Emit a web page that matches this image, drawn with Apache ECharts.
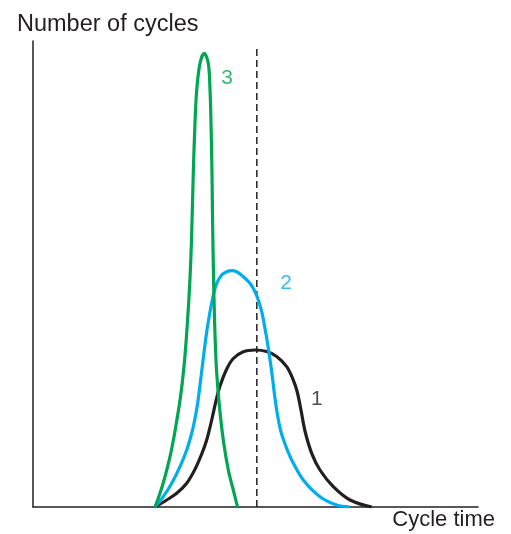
<!DOCTYPE html>
<html>
<head>
<meta charset="utf-8">
<script src="https://cdn.jsdelivr.net/npm/echarts@6/dist/echarts.min.js"></script>
<style>html,body{margin:0;padding:0;background:#fff}#c{width:511px;height:534px}</style>
</head>
<body>
<div id="c"></div>
<script>
// Curve 1 (black)
const curve1X = [27.42,30.04,32.29,34.54,36.40,37.91,39.03,40.16,41.12,42.02,43.53,45.01,47.26,49.89,52.52,54.76,57.01,58.49,59.33,60.22,61.12,62.63,64.49,67.48,71.24,76.11];
const curve1Y = [0,1.50,2.94,5.09,8.10,11.37,14.38,18.67,22.75,25.97,29.61,31.87,33.33,33.69,33.37,32.30,30.11,27.25,24.89,20.82,16.31,11.52,7.94,4.36,1.50,0];
// Curve 2 (blue)
const curve2X = [27.42,29.28,31.17,33.03,34.54,35.66,36.29,36.97,37.53,38.27,39.03,39.78,40.52,41.28,42.40,43.53,44.65,45.78,47.26,48.76,49.89,50.63,51.39,52.13,52.88,53.64,54.38,54.94,55.62,56.63,58.13,60.74,64.49,68.25,71.24];
const curve2Y = [0,2.21,5.09,8.65,12.23,15.82,18.45,22.10,26.18,31.91,37.55,41.91,45.49,48.00,49.79,50.49,50.71,50.49,49.42,48.00,46.20,44.42,41.91,38.35,34.06,29.03,23.33,19.74,16.52,13.52,10.09,5.79,2.21,0.43,0];
// Curve 3 (green)
const curve3X = [27.42,28.54,29.66,30.79,31.69,32.29,32.88,33.37,33.80,34.13,34.74,35.26,35.62,36.02,36.40,36.79,37.53,38.49,39.39,39.78,40.0,40.22,40.36,40.58,40.74,40.94,41.28,41.91,42.76,43.89,45.01,45.96];
const curve3Y = [0,2.94,6.50,10.79,15.09,18.45,21.89,25.32,28.97,32.19,40.13,48.71,57.30,71.67,82.40,89.48,95.21,97.36,95.21,89.48,82.40,71.67,60.94,48.71,42.27,35.84,28.76,21.46,14.38,7.94,3.65,0];
// Dashed reference line
const dashX = 50.3;
const dashY = [0, 98.3];
// Curve labels
const labelText = ['1','2','3'];
const labelX = [63.8, 56.9, 43.6];
const labelY = [23.2, 48.1, 92.1];
const xTitle = 'Cycle time';
const yTitle = 'Number of cycles';

const ink = '#231f20';
const colors = ['#231f20', '#00aeef', '#00a651'];
const zip = (xs, ys) => xs.map((x, i) => [x, ys[i]]);

const chart = echarts.init(document.getElementById('c'), null, {renderer: 'canvas'});
const font = 'Liberation Sans, Arial, Helvetica, sans-serif';
chart.setOption({
  animation: false,
  backgroundColor: '#fff',
  grid: {left: 33, right: 33, top: 41, bottom: 27},
  xAxis: {
    type: 'value', min: 0, max: 100,
    axisLine: {show: true, onZero: false, lineStyle: {color: ink, width: 1.5}},
    axisTick: {show: false}, axisLabel: {show: false}, splitLine: {show: false},
    name: xTitle, nameLocation: 'end', nameGap: 17,
    nameTextStyle: {color: ink, fontSize: 22, fontFamily: font, align: 'right', verticalAlign: 'top', padding: [2, 0, 0, 0]}
  },
  yAxis: {
    type: 'value', min: 0, max: 100,
    axisLine: {show: true, onZero: false, lineStyle: {color: ink, width: 1.5}},
    axisTick: {show: false}, axisLabel: {show: false}, splitLine: {show: false},
    name: yTitle, nameLocation: 'end', nameGap: 4,
    nameTextStyle: {color: ink, fontSize: 23.5, fontFamily: font, align: 'left', padding: [0, 0, 0, -16]}
  },
  series: [
    {type: 'line', data: [[dashX, dashY[0]], [dashX, dashY[1]]], symbol: 'none',
     lineStyle: {color: ink, width: 1.5, type: [7, 4]}, z: 1},
    {type: 'line', data: zip(curve1X, curve1Y), symbol: 'none', smooth: 0.35,
     lineStyle: {color: colors[0], width: 3.2, join: 'round'}, z: 2},
    {type: 'line', data: zip(curve2X, curve2Y), symbol: 'none', smooth: 0.35,
     lineStyle: {color: colors[1], width: 3.2, join: 'round'}, z: 3},
    {type: 'line', data: zip(curve3X, curve3Y), symbol: 'none', smooth: 0.35,
     lineStyle: {color: colors[2], width: 3.2, join: 'round'}, z: 4},
    {type: 'scatter', symbolSize: 0, z: 5,
     data: labelText.map((t, i) => ({value: [labelX[i], labelY[i]], name: t,
       label: {color: colors[i]}})),
     label: {show: true, position: 'inside', formatter: p => p.name, fontSize: 21, fontFamily: font}}
  ]
});
</script>
</body>
</html>
